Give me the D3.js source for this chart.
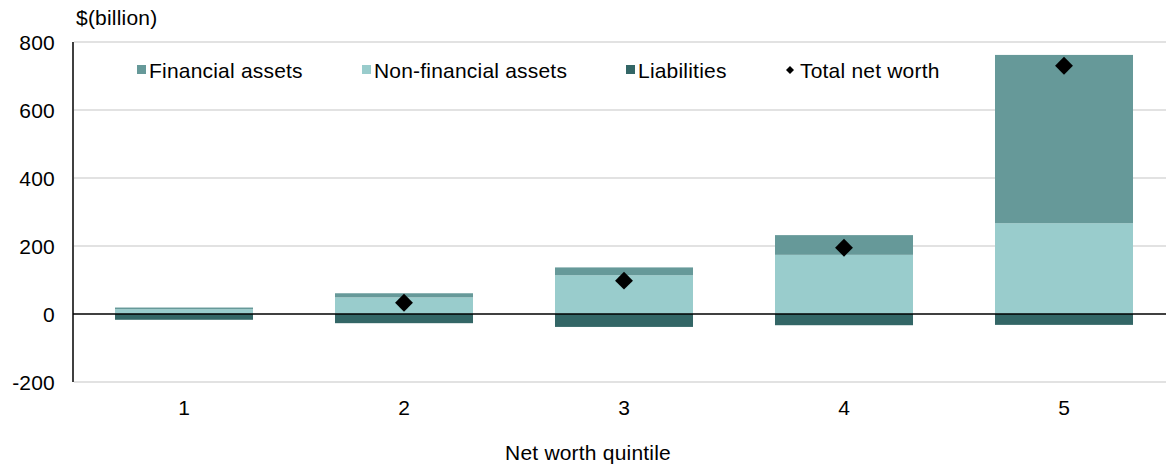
<!DOCTYPE html>
<html>
<head>
<meta charset="utf-8">
<script src="https://cdn.jsdelivr.net/npm/d3@7"></script>
<style>
  html, body { margin: 0; padding: 0; background: #ffffff; }
  svg { display: block; font-family: "Liberation Sans", Arial, sans-serif; }
</style>
</head>
<body>
<svg id="chart" width="1166" height="466"></svg>
<script>
// Household wealth by net worth quintile, $ billion
const quintiles = ["1", "2", "3", "4", "5"];
const financialAssets = [5, 12, 23, 58, 495];
const nonFinancialAssets = [14, 49, 114, 174, 267];
const liabilities = [-17, -27, -38, -33, -32];
const totalNetWorth = [null, 33, 98, 195, 730];
const yTicks = [-200, 0, 200, 400, 600, 800];

const seriesNames = ["Financial assets", "Non-financial assets", "Liabilities", "Total net worth"];
const colors = {
  fin: "#669999",
  nonfin: "#99cccc",
  liab: "#336666"
};

const svg = d3.select("#chart");
const fontSize = 21;
const spacing = "0.2px";

const x = d3.scaleBand()
  .domain(quintiles)
  .range([74, 1174])
  .paddingInner(0.3727)
  .paddingOuter(0.3727 / 2);

const y = d3.scaleLinear()
  .domain([-200, 800])
  .range([382, 42]);

// Horizontal gridlines
svg.append("g")
  .selectAll("line")
  .data(yTicks.filter(t => t !== 0))
  .join("line")
  .attr("x1", 74)
  .attr("x2", 1166)
  .attr("y1", d => y(d))
  .attr("y2", d => y(d))
  .attr("stroke", "#d9d9d9")
  .attr("stroke-width", 1.5);

// Y axis tick labels (plain hyphen for negatives)
const yAxis = d3.axisLeft(y).tickValues(yTicks).tickFormat(d => String(d)).tickSize(0).tickPadding(0);
const yg = svg.append("g")
  .attr("transform", "translate(55,0)")
  .call(yAxis);
yg.select(".domain").remove();
yg.selectAll("text")
  .attr("font-size", fontSize)
  .attr("font-family", "Liberation Sans, Arial, sans-serif")
  .attr("letter-spacing", spacing)
  .attr("fill", "#000")
  .attr("dy", "0.36em");

// Stacked bars: assets above zero, liabilities below
const rows = quintiles.map((q, i) => ({
  q,
  fin: financialAssets[i],
  nonfin: nonFinancialAssets[i],
  liab: liabilities[i],
  net: totalNetWorth[i]
}));

const bars = svg.append("g");
bars.selectAll("rect.nonfin")
  .data(rows)
  .join("rect")
  .attr("class", "nonfin")
  .attr("x", d => x(d.q))
  .attr("width", x.bandwidth())
  .attr("y", d => y(d.nonfin))
  .attr("height", d => y(0) - y(d.nonfin))
  .attr("fill", colors.nonfin);

bars.selectAll("rect.fin")
  .data(rows)
  .join("rect")
  .attr("class", "fin")
  .attr("x", d => x(d.q))
  .attr("width", x.bandwidth())
  .attr("y", d => y(d.nonfin + d.fin))
  .attr("height", d => y(d.nonfin) - y(d.nonfin + d.fin))
  .attr("fill", colors.fin);

bars.selectAll("rect.liab")
  .data(rows)
  .join("rect")
  .attr("class", "liab")
  .attr("x", d => x(d.q))
  .attr("width", x.bandwidth())
  .attr("y", y(0))
  .attr("height", d => y(d.liab) - y(0))
  .attr("fill", colors.liab);

// Zero line and left axis line
svg.append("line")
  .attr("x1", 73).attr("x2", 1166)
  .attr("y1", y(0)).attr("y2", y(0))
  .attr("stroke", "#000").attr("stroke-width", 1.5);
svg.append("line")
  .attr("x1", 73).attr("x2", 73)
  .attr("y1", y(800)).attr("y2", y(-200))
  .attr("stroke", "#000").attr("stroke-width", 1.5);

// Net worth markers
const diamond = d3.symbol().type(d3.symbolSquare).size(160);
svg.append("g")
  .selectAll("path")
  .data(rows.filter(d => d.net !== null))
  .join("path")
  .attr("d", diamond)
  .attr("transform", d => `translate(${x(d.q) + x.bandwidth() / 2},${y(d.net)}) rotate(45)`)
  .attr("fill", "#000");

// X axis category labels
const xAxis = d3.axisBottom(x).tickSize(0).tickPadding(0);
const xg = svg.append("g")
  .attr("transform", "translate(0,400)")
  .call(xAxis);
xg.select(".domain").remove();
xg.selectAll("text")
  .attr("font-size", fontSize)
  .attr("font-family", "Liberation Sans, Arial, sans-serif")
  .attr("fill", "#000");

// Axis titles
svg.append("text")
  .attr("x", 76).attr("y", 25)
  .attr("font-size", fontSize)
  .attr("letter-spacing", spacing)
  .text("$(billion)");
svg.append("text")
  .attr("x", 588).attr("y", 460)
  .attr("text-anchor", "middle")
  .attr("font-size", fontSize)
  .attr("letter-spacing", spacing)
  .text("Net worth quintile");

// Legend
const legend = svg.append("g");
const legendItems = [
  { name: seriesNames[0], x: 137, color: colors.fin, kind: "rect" },
  { name: seriesNames[1], x: 362, color: colors.nonfin, kind: "rect" },
  { name: seriesNames[2], x: 626, color: colors.liab, kind: "rect" },
  { name: seriesNames[3], x: 786, color: "#000", kind: "diamond" }
];
legendItems.forEach(it => {
  if (it.kind === "rect") {
    legend.append("rect")
      .attr("x", it.x).attr("y", 65)
      .attr("width", 9).attr("height", 9)
      .attr("fill", it.color);
  } else {
    legend.append("path")
      .attr("d", d3.symbol().type(d3.symbolSquare).size(32))
      .attr("transform", `translate(${it.x + 4},70) rotate(45)`)
      .attr("fill", it.color);
  }
  legend.append("text")
    .attr("x", it.kind === "rect" ? it.x + 12 : it.x + 14)
    .attr("y", 78)
    .attr("font-size", fontSize)
    .attr("letter-spacing", spacing)
    .text(it.name);
});
</script>
</body>
</html>
